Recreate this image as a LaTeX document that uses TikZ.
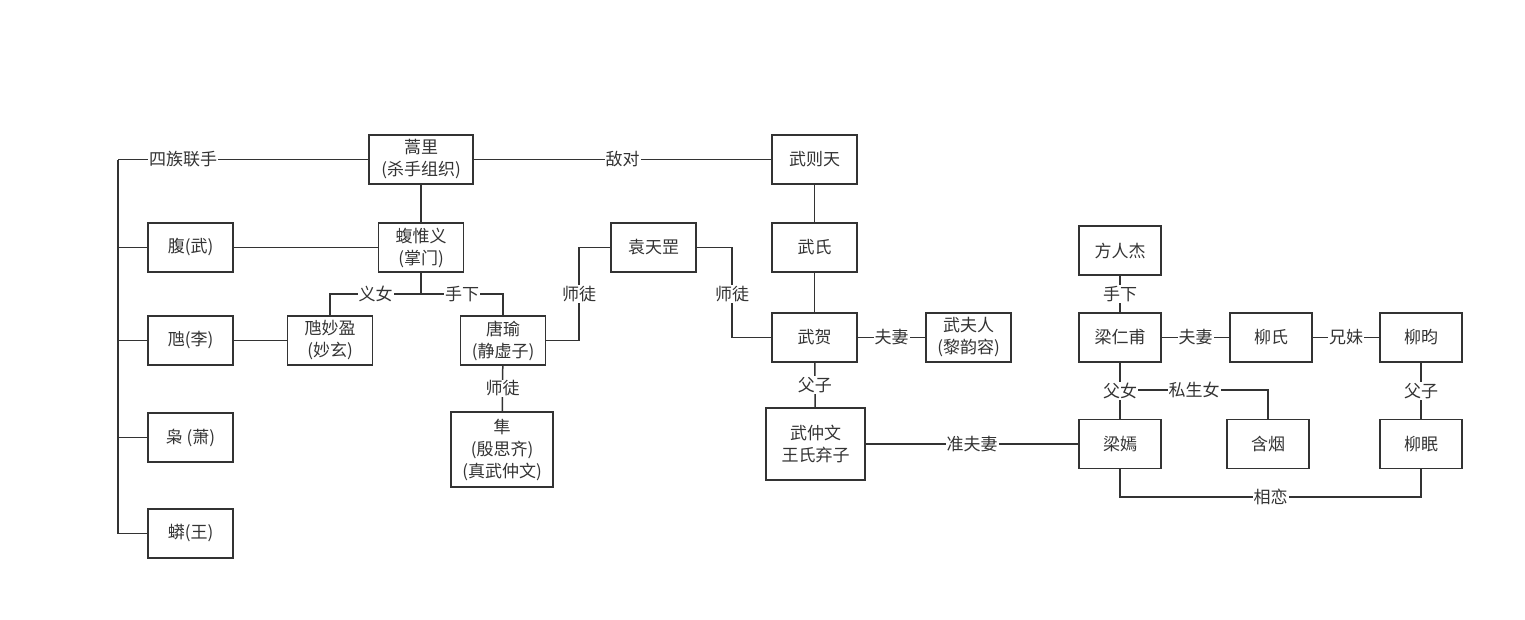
\documentclass[tikz,border=0pt]{standalone}
\usepackage{fontspec}
\setmainfont{Noto Sans CJK SC}
\definecolor{ink}{HTML}{333333}

\begin{document}
\begin{tikzpicture}[x=1pt,y=-1pt,line width=1.5pt,
  every node/.style={font=\fontsize{17}{22}\selectfont,text=ink},
  box/.style={draw=ink,minimum width=85pt,minimum height=49pt,align=center,inner sep=2pt},
  rbox/.style={box,minimum width=82pt},
  lbl/.style={fill=white,inner sep=1pt}]
\useasboundingbox (0,0) rectangle (1525,619);
% ---------- 左侧：四族 ----------
\node[box,minimum width=104pt] (haoli) at (421,159.5) {蒿里\\(杀手组织)};
\node[box] (fuwu) at (190.5,247.5) {腹(武)};
\node[box] (huili) at (190.5,340.5) {虺(李)};
\node[box] (xiaoxiao) at (190.5,437.5) {枭 (萧)};
\node[box] (mangwang) at (190.5,533.5) {蟒(王)};
\node[box] (fuweiyi) at (421,247.5) {蝮惟义\\(掌门)};
\node[box] (huimiaoying) at (330,340.5) {虺妙盈\\(妙玄)};
\node[box] (tangyu) at (503,340.5) {唐瑜\\(静虚子)};
\node[box,minimum width=102pt,minimum height=75pt] (sun) at (502,449.5) {隼\\(殷思齐)\\(真武仲文)};
\coordinate (bustop) at (118,159.5);
\coordinate (busbot) at (118,533.5);
\coordinate (fork) at (421,294);
\draw[draw=ink] (bustop) -- node[lbl,pos=0.26] {四族联手} (haoli);
\draw[draw=ink] (bustop) -- (busbot);
\foreach \n in {fuwu,huili,xiaoxiao,mangwang}{
  \draw[draw=ink] (\n.west) -- (\n.west -| bustop);
}
\draw[draw=ink] (haoli) -- (fuweiyi);
\draw[draw=ink] (fuwu) -- (fuweiyi);
\draw[draw=ink] (huili) -- (huimiaoying);
\draw[draw=ink] (fuweiyi) -- (fork);
\draw[draw=ink] (fork) -- node[lbl] {义女} (fork -| huimiaoying) -- (huimiaoying);
\draw[draw=ink] (fork) -- node[lbl] {手下} (fork -| tangyu) -- (tangyu);
\draw[draw=ink] (tangyu) -- node[lbl] {师徒} (sun);
% ---------- 中间：武家 ----------
\node[box] (wuzetian) at (814.5,159.5) {武则天};
\node[box] (wushi) at (814.5,247.5) {武氏};
\node[box] (wuhe) at (814.5,337.5) {武贺};
\node[box] (wufuren) at (968.5,337.5) {武夫人\\(黎韵容)};
\node[box] (yuantiangang) at (653.5,247.5) {袁天罡};
\node[box,minimum width=99pt,minimum height=72pt] (wuzhongwen) at (815.5,444) {武仲文\\王氏弃子};
\coordinate (shitu1) at (579,294);
\coordinate (shitu2) at (732,294);
\draw[draw=ink] (haoli) -- node[lbl] {敌对} (wuzetian);
\draw[draw=ink] (wuzetian) -- (wushi);
\draw[draw=ink] (wushi) -- (wuhe);
\draw[draw=ink] (wuhe) -- node[lbl] {夫妻} (wufuren);
\draw[draw=ink] (wuhe) -- node[lbl] {父子} (wuzhongwen);
\draw[draw=ink] (tangyu.east) -| (shitu1) |- (yuantiangang.west);
\node[lbl] at (shitu1) {师徒};
\draw[draw=ink] (yuantiangang.east) -| (shitu2) |- (wuhe.west);
\node[lbl] at (shitu2) {师徒};
% ---------- 右侧：梁家、柳家 ----------
\node[rbox] (fangrenjie) at (1120,250.5) {方人杰};
\node[rbox] (liangrenfu) at (1120,337.5) {梁仁甫};
\node[rbox] (liushi) at (1271,337.5) {柳氏};
\node[rbox] (liuyun) at (1421,337.5) {柳昀};
\node[rbox] (liangyan) at (1120,444) {梁嫣};
\node[rbox] (hanyan) at (1268,444) {含烟};
\node[rbox] (liumian) at (1421,444) {柳眠};
\coordinate (fvfork) at (1120,390);
\coordinate (lovebase) at (1120,497);
\draw[draw=ink] (wuzhongwen) -- node[lbl] {准夫妻} (liangyan);
\draw[draw=ink] (fangrenjie) -- node[lbl] {手下} (liangrenfu);
\draw[draw=ink] (liangrenfu) -- node[lbl] {夫妻} (liushi);
\draw[draw=ink] (liushi) -- node[lbl] {兄妹} (liuyun);
\draw[draw=ink] (hanyan.north) |- node[lbl,pos=0.75] {私生女} (fvfork);
\draw[draw=ink] (liangrenfu) -- node[lbl] {父女} (liangyan);
\draw[draw=ink] (liuyun) -- node[lbl] {父子} (liumian);
\draw[draw=ink] (liangyan) -- (lovebase) -| node[lbl,pos=0.25] {相恋} (liumian);
\end{tikzpicture}
\end{document}
